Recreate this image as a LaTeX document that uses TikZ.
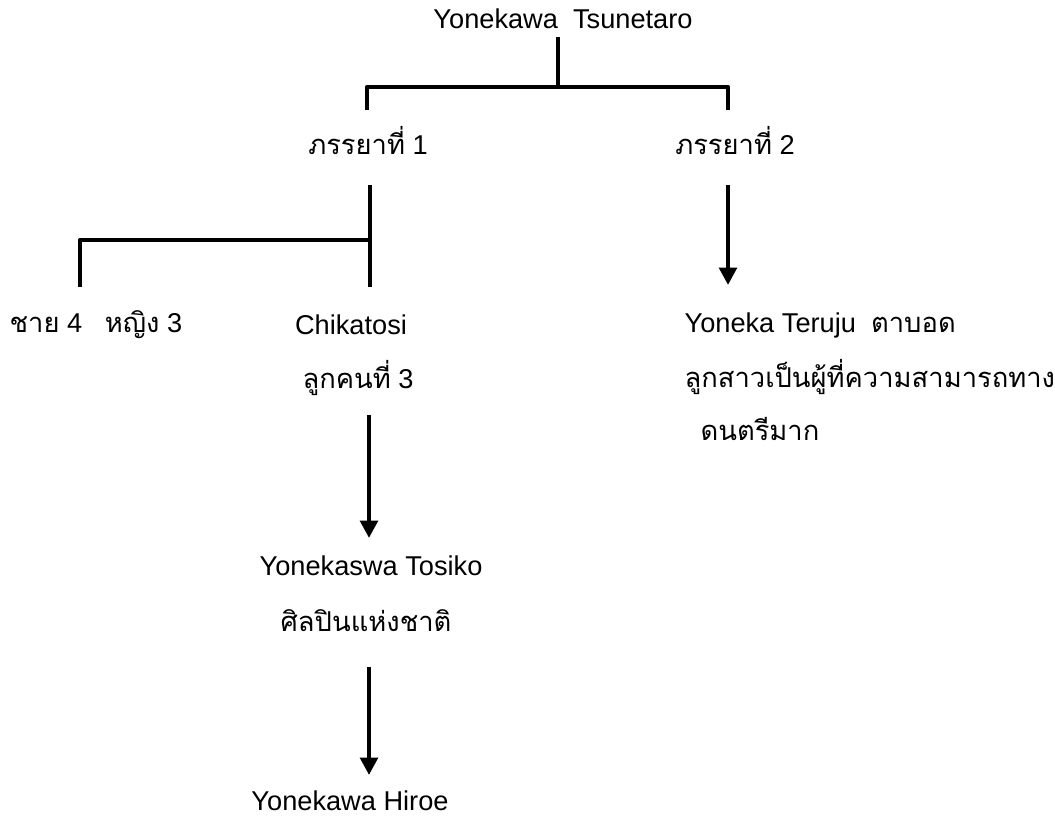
\documentclass[tikz,border=0pt]{standalone}
\usepackage{fontspec}
\setmainfont{Liberation Sans}
\newfontfamily\thai[Script=Thai]{Loma}
\usetikzlibrary{arrows.meta}
\newcommand{\thtxt}[1]{{\thai\fontsize{20.5}{24}\selectfont #1}}
\begin{document}
\begin{tikzpicture}[x=0.75pt,y=-0.75pt,
  lbl/.style={font=\fontsize{20.4}{24}\selectfont, inner sep=1pt},
  conn/.style={line width=3.2pt, line join=round},
  arr/.style={conn, -{Triangle[length=13pt,width=13pt]}}]
\useasboundingbox (0,0) rectangle (1055,821);
% nodes
\node[lbl] (top) at (563,19) {Yonekawa\ \ Tsunetaro};
\node[lbl] (w1) at (368,141) {\thtxt{ภรรยาที่} 1};
\node[lbl] (w2) at (735,141) {\thtxt{ภรรยาที่} 2};
\node[lbl, anchor=west] (sib) at (8,325) {\thtxt{ชาย} 4\ \ \ \thtxt{หญิง} 3};
\node[lbl] (chi) at (351,325) {Chikatosi};
\node[lbl] (chi2) at (358,378) {\thtxt{ลูกคนที่} 3};
\node[lbl] (tos) at (371,566) {Yonekaswa Tosiko};
\node[lbl] (tos2) at (366,621) {\thtxt{ศิลปินแห่งชาติ}};
\node[lbl] (hir) at (350,801) {Yonekawa Hiroe};
\node[lbl, anchor=west] (ter) at (683,325) {Yoneka Teruju\ \ \thtxt{ตาบอด}};
\node[lbl, anchor=west] (ter2) at (683,377) {\thtxt{ลูกสาวเป็นผู้ที่ความสามารถทาง}};
\node[lbl, anchor=west] (ter3) at (699,429) {\thtxt{ดนตรีมาก}};
% junction coordinates
\coordinate (a0) at (558,37);
\coordinate (a1) at (558,87);
\coordinate (bl) at (367,87);
\coordinate (bl2) at (367,110);
\coordinate (br) at (728,87);
\coordinate (br2) at (728,110);
\coordinate (c0) at (370,185);
\coordinate (c1) at (370,287);
\coordinate (c2) at (370,240);
\coordinate (c3) at (80,240);
\coordinate (c4) at (80,287);
\coordinate (d0) at (728,185);
\coordinate (d1) at (728,285);
\coordinate (e0) at (369,415);
\coordinate (e1) at (369,538);
\coordinate (f0) at (369,667);
\coordinate (f1) at (369,775);
% connectors
\draw[conn] (a0) -- (a1);
\draw[conn] (bl2) -- (bl) -- (br) -- (br2);
\draw[conn] (c0) -- (c1);
\draw[conn] (c2) -- (c3) -- (c4);
\draw[arr] (d0) -- (d1);
\draw[arr] (e0) -- (e1);
\draw[arr] (f0) -- (f1);
\end{tikzpicture}
\end{document}
